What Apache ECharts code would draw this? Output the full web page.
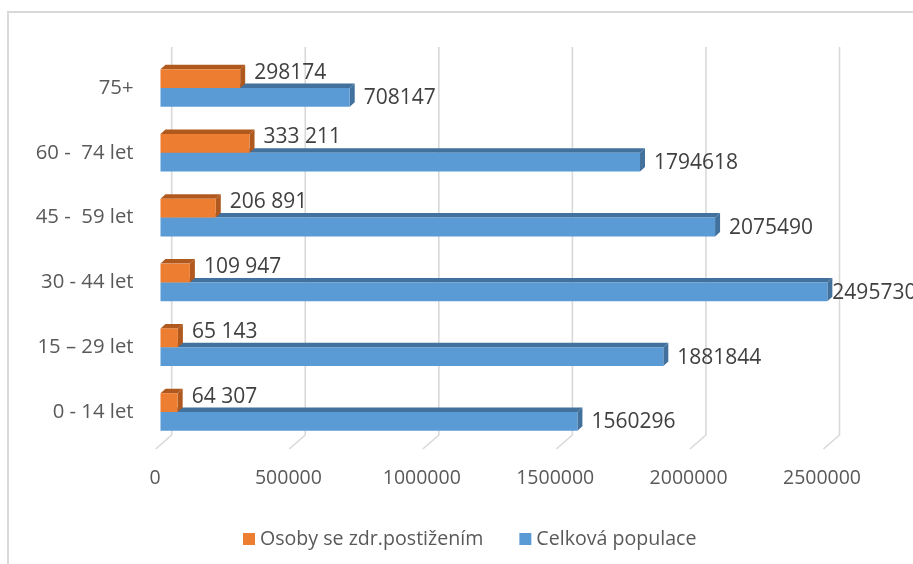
<!DOCTYPE html>
<html>
<head>
<meta charset="utf-8">
<script src="https://cdn.jsdelivr.net/npm/echarts@6/dist/echarts.min.js"></script>
<style>
html,body{margin:0;padding:0;background:#fff;}
#c{width:913px;height:564px;}
</style>
</head>
<body>
<div id="c"></div>
<script>
const categories = ["0 - 14 let", "15 – 29 let", "30 - 44 let", "45 -  59 let", "60 -  74 let", "75+"];
const disabled = [64307, 65143, 109947, 206891, 333211, 298174];
const disabledLabels = ["64 307", "65 143", "109 947", "206 891", "333 211", "298174"];
const total = [1560296, 1881844, 2495730, 2075490, 1794618, 708147];
const totalLabels = ["1560296", "1881844", "2495730", "2075490", "1794618", "708147"];
const xTicks = [0, 500000, 1000000, 1500000, 2000000, 2500000];
const seriesNames = ["Osoby se zdr.postižením", "Celková populace"];

const FONT = "'Open Sans', 'Liberation Sans', sans-serif";
const W = 913;
const DX = 5, DY = 4.5;
const LABEL_SIZE = 21;

const mctx = document.createElement('canvas').getContext('2d');
function textWidth(t, size) {
  mctx.font = size + 'px ' + FONT;
  return mctx.measureText(t).width;
}

function barRenderer(upper, front, dark, labels, labelShift) {
  return function (params, api) {
    const v = api.value(0), i = api.value(1);
    const c0 = api.coord([0, i]);
    const c1 = api.coord([v, i]);
    const bh = api.size([0, 1])[1] * 0.29;
    const yTop = upper ? c0[1] - bh : c0[1];
    const yBot = upper ? c0[1] : c0[1] + bh;
    const x0 = c0[0], x1 = c1[0];
    const lbl = labels[params.dataIndex];
    const tw = textWidth(lbl, LABEL_SIZE);
    let gap = 9;
    if (x1 + DX + gap + tw > W - 2) gap = 0;
    return {
      type: 'group',
      children: [
        { type: 'polygon', shape: { points: [[x0, yTop], [x1, yTop], [x1 + DX, yTop - DY], [x0 + DX, yTop - DY]] },
          style: { fill: dark } },
        { type: 'polygon', shape: { points: [[x1, yTop], [x1 + DX, yTop - DY], [x1 + DX, yBot - DY], [x1, yBot]] },
          style: { fill: dark } },
        { type: 'rect', shape: { x: x0, y: yTop, width: x1 - x0, height: yBot - yTop },
          style: { fill: front } },
        { type: 'text', x: x1 + DX + gap, y: (yTop + yBot) / 2 + labelShift,
          style: { text: lbl, fill: '#404040', fontSize: LABEL_SIZE, fontFamily: FONT, align: 'left', verticalAlign: 'middle' } }
      ]
    };
  };
}

const chart = echarts.init(document.getElementById('c'), null, { renderer: 'canvas' });
const option = {
  backgroundColor: '#ffffff',
  animation: false,
  graphic: [
    { type: 'rect', shape: { x: 8, y: 12, width: 1000, height: 1000 }, style: { stroke: '#D9D9D9', lineWidth: 2, fill: null }, silent: true, z: -10 }
  ],
  grid: [
    { left: 160.5, right: 84.5, top: 55.6, bottom: 119.6 },
    { left: 171.7, right: 73.5, top: 47, bottom: 129 },
    { left: 155, right: 91, top: 47, bottom: 115 }
  ],
  xAxis: [
    { gridIndex: 0, type: 'value', min: 0, max: 2500000, interval: 500000, axisLabel: { show: false }, axisLine: { show: false }, axisTick: { show: false }, splitLine: { show: false } },
    { gridIndex: 1, type: 'value', min: 0, max: 2500000, interval: 500000, axisLabel: { show: false }, axisLine: { show: false }, axisTick: { show: false }, splitLine: { show: false } },
    { gridIndex: 2, type: 'value', min: 0, max: 2500000, interval: 500000, axisLine: { show: false }, axisTick: { show: false }, splitLine: { show: false },
      axisLabel: { margin: 19, fontSize: 19.5, color: '#595959', fontFamily: FONT, formatter: function (v) { return String(v); } } }
  ],
  yAxis: [
    { gridIndex: 0, type: 'category', data: categories, axisLine: { show: false }, axisTick: { show: false }, splitLine: { show: false },
      axisLabel: { margin: 27, fontSize: 20.3, color: '#595959', fontFamily: FONT, padding: [10, 0, 0, 0] } },
    { gridIndex: 1, type: 'value', min: 0, max: 1, show: false },
    { gridIndex: 2, type: 'value', min: 0, max: 1, show: false }
  ],
  legend: {
    data: seriesNames,
    top: 524,
    left: 238,
    icon: 'rect',
    itemWidth: 12,
    itemHeight: 12,
    itemGap: 36,
    itemTextGap: 5,
    textStyle: { fontSize: 19.6, color: '#595959', fontFamily: FONT }
  },
  series: [
    {
      name: 'grid',
      type: 'custom',
      xAxisIndex: 1, yAxisIndex: 1,
      silent: true, z: 1,
      data: xTicks.map(v => [v, 0]),
      encode: { x: 0, y: 1 },
      renderItem: function (params, api) {
        const v = api.value(0);
        const t = api.coord([v, 1]);
        const b = api.coord([v, 0]);
        return { type: 'polyline', shape: { points: [t, b, [b[0] - 16, b[1] + 14]] },
          style: { stroke: '#D9D9D9', lineWidth: 1.6, fill: null } };
      }
    },
    {
      name: seriesNames[0],
      type: 'custom',
      xAxisIndex: 0, yAxisIndex: 0,
      z: 3,
      itemStyle: { color: '#ED7D31' },
      data: disabled.map((v, i) => [v, i]),
      encode: { x: 0, y: 1 },
      renderItem: barRenderer(true, '#ED7D31', '#B0591F', disabledLabels, -6)
    },
    {
      name: seriesNames[1],
      type: 'custom',
      xAxisIndex: 0, yAxisIndex: 0,
      z: 2,
      itemStyle: { color: '#5B9BD5' },
      data: total.map((v, i) => [v, i]),
      encode: { x: 0, y: 1 },
      renderItem: barRenderer(false, '#5B9BD5', '#41719C', totalLabels, 1)
    }
  ]
};
chart.setOption(option);
</script>
</body>
</html>
